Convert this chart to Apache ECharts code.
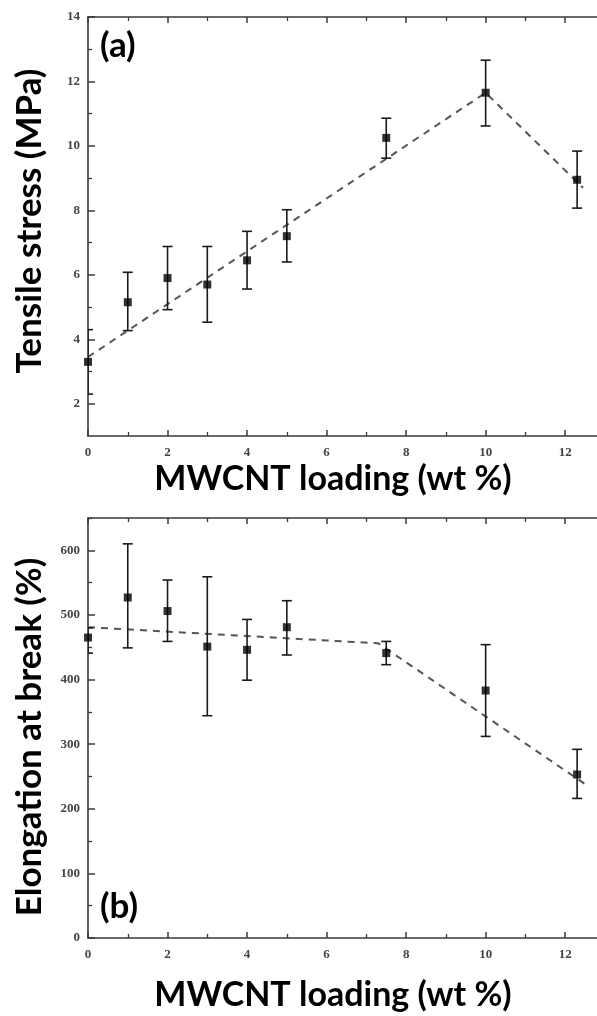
<!DOCTYPE html>
<html>
<head>
<meta charset="utf-8">
<script src="https://cdn.jsdelivr.net/npm/echarts@6/dist/echarts.min.js"></script>
<style>
html,body{margin:0;padding:0;background:#fff;}
#chart{width:597px;height:1016px;}
</style>
</head>
<body>
<div id="chart"></div>
<script>
// ---- data ----
const loading = [0, 1, 2, 3, 4, 5, 7.5, 10, 12.3];
const tensile = [3.3, 5.15, 5.9, 5.7, 6.45, 7.2, 10.25, 11.65, 8.95];
const tensileLow = [2.3, 4.27, 4.92, 4.53, 5.56, 6.4, 9.62, 10.62, 8.07];
const tensileHigh = [4.3, 6.08, 6.88, 6.88, 7.35, 8.02, 10.86, 12.66, 9.84];
const elongation = [465, 527, 506, 451, 446, 481, 441, 383, 253];
const elongLow = [441, 449, 459, 344, 399, 438, 423, 312, 216];
const elongHigh = [480, 610, 554, 559, 493, 522, 459, 454, 292];
const tensileTrendX = [0, 10, 12.45];
const tensileTrendY = [3.45, 11.65, 8.7];
const elongTrendX = [0, 7.3, 12.6];
const elongTrendY = [481, 456, 234];
const xTickLabels = [0, 2, 4, 6, 8, 10, 12];
const xMinorTicks = [1, 3, 5, 7, 9, 11];
const tensileTicks = [2, 4, 6, 8, 10, 12, 14];
const tensileMinor = [3, 5, 7, 9, 11, 13];
const elongTicks = [0, 100, 200, 300, 400, 500, 600];
const elongMinor = [50, 150, 250, 350, 450, 550, 650];

const zip = (a, b) => a.map((v, i) => [v, b[i]]);
const zip3 = (a, b, c) => a.map((v, i) => [v, b[i], c[i]]);

const chart = echarts.init(document.getElementById('chart'), null, {renderer: 'canvas'});

const AX = '#3a3a3a';
const tickFont = {fontFamily: 'Liberation Serif', fontWeight: 'bold', fontSize: 13, color: '#444'};
const titleFont = 'Lato';

function xAxes(gridIndex) {
  const base = {type: 'value', gridIndex, min: 0, max: 12.8, splitLine: {show: false}};
  return [
    Object.assign({}, base, {
      position: 'bottom',
      axisLine: {show: true, lineStyle: {color: AX, width: 1.6}},
      axisTick: {show: true, inside: true, length: 6, lineStyle: {color: AX, width: 1.5}, customValues: xTickLabels},
      axisLabel: Object.assign({show: true, margin: 10, customValues: xTickLabels}, tickFont)
    }),
    Object.assign({}, base, {
      position: 'bottom',
      axisLine: {show: false},
      axisTick: {show: true, inside: true, length: 4, lineStyle: {color: AX, width: 1.3}, customValues: xMinorTicks},
      axisLabel: {show: false}
    }),
    Object.assign({}, base, {
      position: 'top',
      axisLine: {show: true, lineStyle: {color: AX, width: 1.6}},
      axisTick: {show: true, inside: true, length: 6, lineStyle: {color: AX, width: 1.5}, customValues: xTickLabels},
      axisLabel: {show: false}
    }),
    Object.assign({}, base, {
      position: 'top',
      axisLine: {show: false},
      axisTick: {show: true, inside: true, length: 4, lineStyle: {color: AX, width: 1.3}, customValues: xMinorTicks},
      axisLabel: {show: false}
    })
  ];
}

function yAxes(gridIndex, min, max, major, minor) {
  const base = {type: 'value', gridIndex, min, max, splitLine: {show: false}, position: 'left'};
  return [
    Object.assign({}, base, {
      axisLine: {show: true, lineStyle: {color: AX, width: 1.6}},
      axisTick: {show: true, inside: true, length: 7, lineStyle: {color: AX, width: 1.5}, customValues: major},
      axisLabel: Object.assign({show: true, margin: 8, customValues: major}, tickFont)
    }),
    Object.assign({}, base, {
      axisLine: {show: false},
      axisTick: {show: true, inside: true, length: 4, lineStyle: {color: AX, width: 1.3}, customValues: minor},
      axisLabel: {show: false}
    })
  ];
}

function errorBars(xAxisIndex, yAxisIndex, data) {
  return {
    type: 'custom',
    xAxisIndex, yAxisIndex,
    z: 3,
    data,
    renderItem: function (params, api) {
      const x = api.value(0), lo = api.value(1), hi = api.value(2);
      const p1 = api.coord([x, lo]);
      const p2 = api.coord([x, hi]);
      const w = 5;
      const cs = params.coordSys;
      const st = {stroke: '#1a1a1a', lineWidth: 1.6};
      return {
        type: 'group',
        clipPath: {type: 'rect', shape: {x: cs.x, y: cs.y, width: cs.width, height: cs.height}},
        children: [
          {type: 'line', shape: {x1: p1[0], y1: p1[1], x2: p2[0], y2: p2[1]}, style: st},
          {type: 'line', shape: {x1: p1[0] - w, y1: p1[1], x2: p1[0] + w, y2: p1[1]}, style: st},
          {type: 'line', shape: {x1: p2[0] - w, y1: p2[1], x2: p2[0] + w, y2: p2[1]}, style: st}
        ]
      };
    }
  };
}

const option = {
  backgroundColor: '#fff',
  animation: false,
  grid: [
    {left: 88, top: 17, width: 511, height: 419},
    {left: 88, top: 518, width: 511, height: 420}
  ],
  xAxis: [...xAxes(0), ...xAxes(1)],
  yAxis: [
    ...yAxes(0, 1, 14, tensileTicks, tensileMinor),
    ...yAxes(1, 0, 650, elongTicks, elongMinor)
  ],
  series: [
    {
      type: 'line', xAxisIndex: 0, yAxisIndex: 0, z: 2,
      data: zip(tensileTrendX, tensileTrendY),
      symbol: 'none',
      lineStyle: {color: '#555', width: 2, type: [7, 6]}
    },
    errorBars(0, 0, zip3(loading, tensileLow, tensileHigh)),
    {
      type: 'scatter', xAxisIndex: 0, yAxisIndex: 0, z: 4,
      data: zip(loading, tensile),
      symbol: 'rect', symbolSize: 8,
      itemStyle: {color: '#000'}
    },
    {
      type: 'line', xAxisIndex: 4, yAxisIndex: 2, z: 2,
      data: zip(elongTrendX, elongTrendY),
      symbol: 'none',
      lineStyle: {color: '#555', width: 2, type: [7, 6]}
    },
    errorBars(4, 2, zip3(loading, elongLow, elongHigh)),
    {
      type: 'scatter', xAxisIndex: 4, yAxisIndex: 2, z: 4,
      data: zip(loading, elongation),
      symbol: 'rect', symbolSize: 8,
      itemStyle: {color: '#000'}
    }
  ],
  graphic: [
    {type: 'text', left: 100, top: 28, style: {text: '(a)', font: 'bold 35px ' + titleFont, fill: '#000'}},
    {type: 'text', left: 100, top: 889, style: {text: '(b)', font: 'bold 35px ' + titleFont, fill: '#000'}},
    {type: 'text', x: 333, y: 479, style: {text: 'MWCNT loading (wt %)', font: 'bold 34px ' + titleFont, fill: '#000', align: 'center', verticalAlign: 'middle'}},
    {type: 'text', x: 333, y: 995, style: {text: 'MWCNT loading (wt %)', font: 'bold 34px ' + titleFont, fill: '#000', align: 'center', verticalAlign: 'middle'}},
    {type: 'text', x: 30, y: 221, rotation: Math.PI / 2, style: {text: 'Tensile stress (MPa)', font: 'bold 35px ' + titleFont, fill: '#000', align: 'center', verticalAlign: 'middle'}},
    {type: 'text', x: 30, y: 737, rotation: Math.PI / 2, style: {text: 'Elongation at break (%)', font: 'bold 35px ' + titleFont, fill: '#000', align: 'center', verticalAlign: 'middle'}}
  ]
};
chart.setOption(option);
</script>
</body>
</html>
